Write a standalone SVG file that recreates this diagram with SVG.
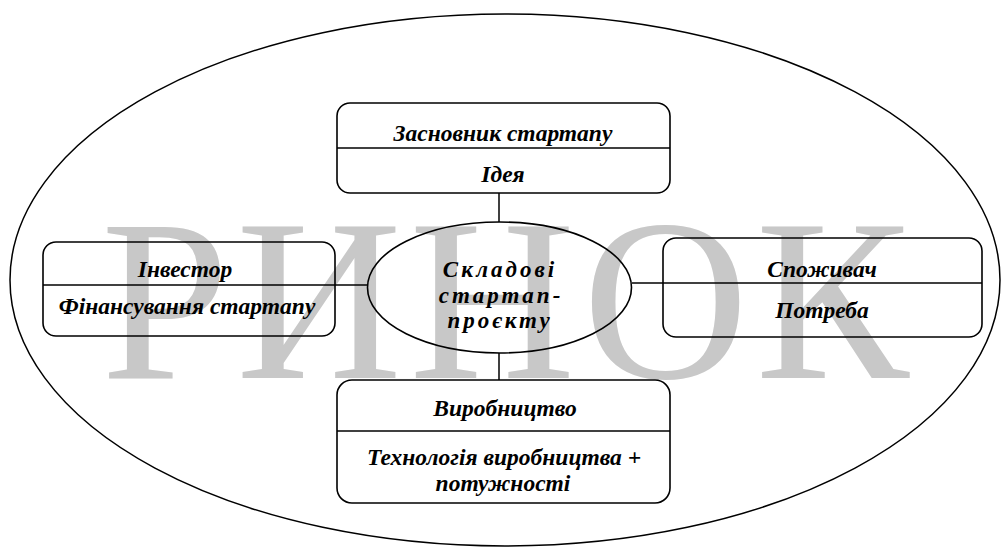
<svg xmlns="http://www.w3.org/2000/svg" width="1003" height="548" viewBox="0 0 1003 548">
  <style>
    .line { fill: none; stroke: #000; stroke-width: 1.5; }
    .box { fill: none; stroke: #000; stroke-width: 1.6; }
    .label { font-family: "Liberation Serif", "Times New Roman", serif; font-weight: bold; font-style: italic; font-size: 23.5px; fill: #000; text-anchor: middle; }
    .core { font-size: 23px; letter-spacing: 3px; }
    .mark { font-family: "Liberation Serif", "Times New Roman", serif; font-size: 230px; fill: #c8c8c8; }
  </style>

  <rect width="1003" height="548" fill="#fff"/>

  <!-- market boundary -->
  <ellipse cx="505" cy="280" rx="495" ry="266" class="line" stroke-width="1.3"/>

  <!-- background word -->
  <text class="mark" x="101" y="378" textLength="808" lengthAdjust="spacing">РИНОК</text>

  <!-- connectors -->
  <g id="connectors">
    <line x1="499" y1="193" x2="499" y2="222" class="line"/>
    <line x1="499" y1="353" x2="499" y2="380" class="line"/>
    <line x1="335" y1="285" x2="367" y2="285" class="line"/>
    <line x1="632" y1="283" x2="663" y2="283" class="line"/>
  </g>

  <g id="core">
    <ellipse cx="499.5" cy="287.5" rx="132" ry="65.5" class="box"/>
    <text class="label core" x="500" y="277">Складові</text>
    <text class="label core" x="501" y="303">стартап-</text>
    <text class="label core" x="500" y="328">проєкту</text>
  </g>

  <g id="founder">
    <rect x="337" y="103" width="333" height="90" rx="13" class="box"/>
    <line x1="337" y1="148" x2="670" y2="148" class="box"/>
    <text class="label" x="503" y="141">Засновник стартапу</text>
    <text class="label" x="503" y="182">Ідея</text>
  </g>

  <g id="investor">
    <rect x="43" y="242" width="292" height="94" rx="13" class="box"/>
    <line x1="43" y1="285" x2="335" y2="285" class="box"/>
    <text class="label" x="185" y="277">Інвестор</text>
    <text class="label" x="187" y="314">Фінансування стартапу</text>
  </g>

  <g id="consumer">
    <rect x="663" y="238" width="319" height="99" rx="13" class="box"/>
    <line x1="663" y1="283" x2="982" y2="283" class="box"/>
    <text class="label" x="822" y="277">Споживач</text>
    <text class="label" x="822" y="318">Потреба</text>
  </g>

  <g id="production">
    <rect x="337" y="380" width="333" height="123" rx="15" class="box"/>
    <line x1="337" y1="431" x2="670" y2="431" class="box"/>
    <text class="label" x="505" y="416">Виробництво</text>
    <text class="label" x="504" y="465">Технологія виробництва +</text>
    <text class="label" x="503" y="491">потужності</text>
  </g>
</svg>
